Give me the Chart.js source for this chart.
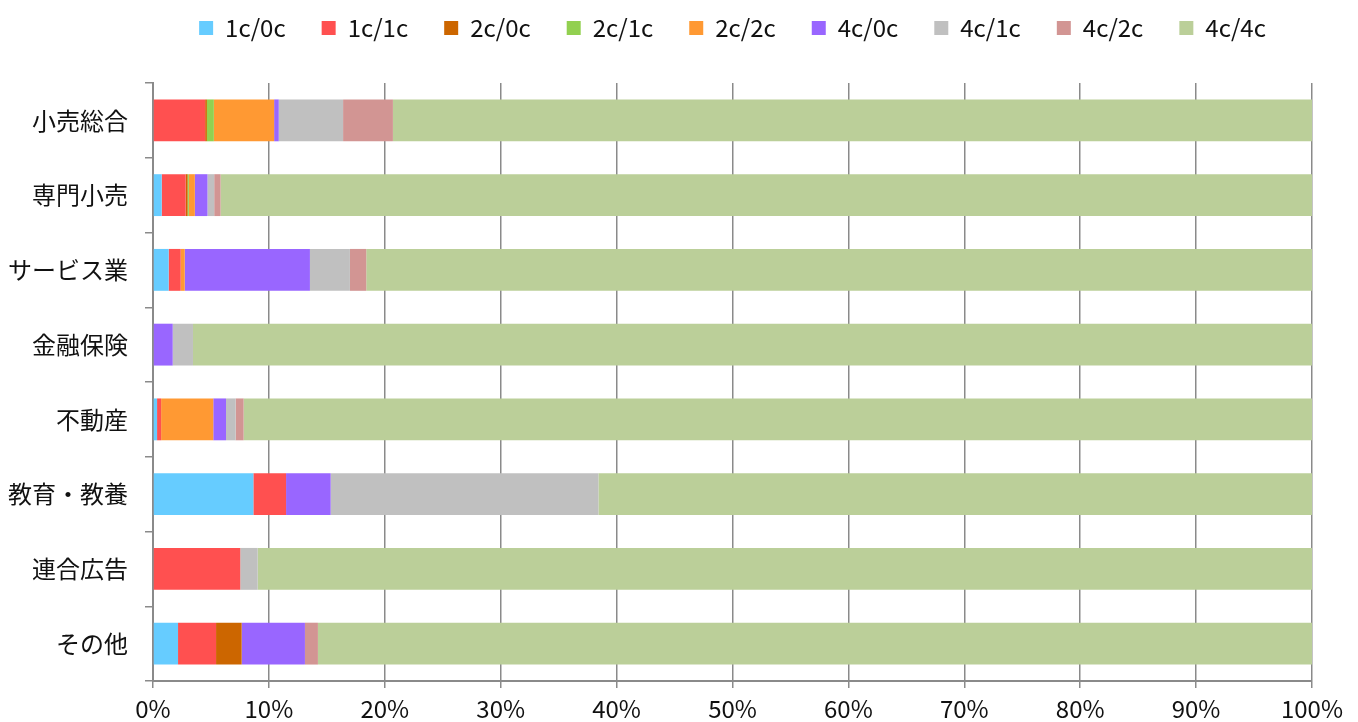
<!DOCTYPE html>
<html>
<head>
<meta charset="utf-8">
<script src="https://cdn.jsdelivr.net/npm/chart.js@4"></script>
<style>
  html, body { margin: 0; padding: 0; background: #fff; }
  #wrap { width: 1358px; height: 722px; }
</style>
</head>
<body>
<div id="wrap"><canvas id="myChart"></canvas></div>
<script>
// categories (top to bottom)
var categories = ["小売総合", "専門小売", "サービス業", "金融保険", "不動産", "教育・教養", "連合広告", "その他"];

// series values, % share per category
var s1c0c = [0, 0.75, 1.35, 0, 0.35, 8.66, 0, 2.16];
var s1c1c = [4.5, 2.07, 1.04, 0, 0.35, 2.82, 7.53, 3.28];
var s2c0c = [0.15, 0.17, 0, 0, 0, 0, 0, 2.21];
var s2c1c = [0.6, 0.1, 0, 0, 0, 0, 0, 0];
var s2c2c = [5.2, 0.52, 0.35, 0, 4.5, 0, 0, 0];
var s4c0c = [0.4, 1.09, 10.8, 1.7, 1.1, 3.85, 0, 5.46];
var s4c1c = [5.55, 0.58, 3.45, 1.75, 0.83, 23.1, 1.5, 0];
var s4c2c = [4.3, 0.55, 1.41, 0, 0.69, 0, 0, 1.12];
var s4c4c = [79.3, 94.17, 81.6, 96.55, 92.18, 61.57, 90.97, 85.77];

var seriesNames = ["1c/0c", "1c/1c", "2c/0c", "2c/1c", "2c/2c", "4c/0c", "4c/1c", "4c/2c", "4c/4c"];
var seriesData = [s1c0c, s1c1c, s2c0c, s2c1c, s2c2c, s4c0c, s4c1c, s4c2c, s4c4c];
var seriesColors = ["#66CCFF", "#FF5050", "#CC6600", "#92D050", "#FF9933", "#9966FF", "#C0C0C0", "#D29593", "#BBCF99"];

var axisGray = "#8a8a8a";
var fontFam = "'Noto Sans CJK JP', 'Noto Sans', sans-serif";

var datasets = [];
for (var i = 0; i < seriesNames.length; i++) {
   datasets.push({
      label: seriesNames[i],
      data: seriesData[i],
      backgroundColor: seriesColors[i],
      borderWidth: 0,
      barPercentage: 0.56,
      categoryPercentage: 1
   });
}

var chart = new Chart(document.getElementById("myChart"), {
   type: 'bar',
   data: {
      labels: categories,
      datasets: datasets
   },
   options: {
      indexAxis: 'y',
      responsive: true,
      maintainAspectRatio: false,
      animation: false,
      layout: { padding: { top: -20, right: 46, left: 0, bottom: 0 } },
      plugins: {
         legend: {
            position: 'top',
            fullSize: false,
            labels: {
               boxWidth: 14,
               boxHeight: 14,
               padding: 36,
               color: '#111',
               font: { family: fontFam, size: 24 }
            }
         },
         title: {
            display: true,
            text: ' ',
            weight: 500,
            padding: { top: 0, bottom: 21 },
            font: { size: 10 }
         },
         tooltip: { enabled: false }
      },
      scales: {
         x: {
            stacked: true,
            min: 0,
            max: 100,
            ticks: {
               stepSize: 10,
               padding: 6,
               color: '#111',
               font: { family: fontFam, size: 24 },
               callback: function (v) { return v + '%'; }
            },
            grid: { color: axisGray, lineWidth: 1.5, tickLength: 7 },
            border: { color: axisGray, width: 2 },
            afterFit: function (s) { s.height = 41; }
         },
         y: {
            stacked: true,
            ticks: {
               padding: 17,
               color: '#111',
               font: { family: fontFam, size: 24 }
            },
            grid: { color: axisGray, lineWidth: 1.5, tickLength: 8, drawOnChartArea: false, offset: true },
            border: { color: axisGray, width: 2 },
            afterFit: function (s) { s.width = 153; }
         }
      }
   }
});
</script>
</body>
</html>
